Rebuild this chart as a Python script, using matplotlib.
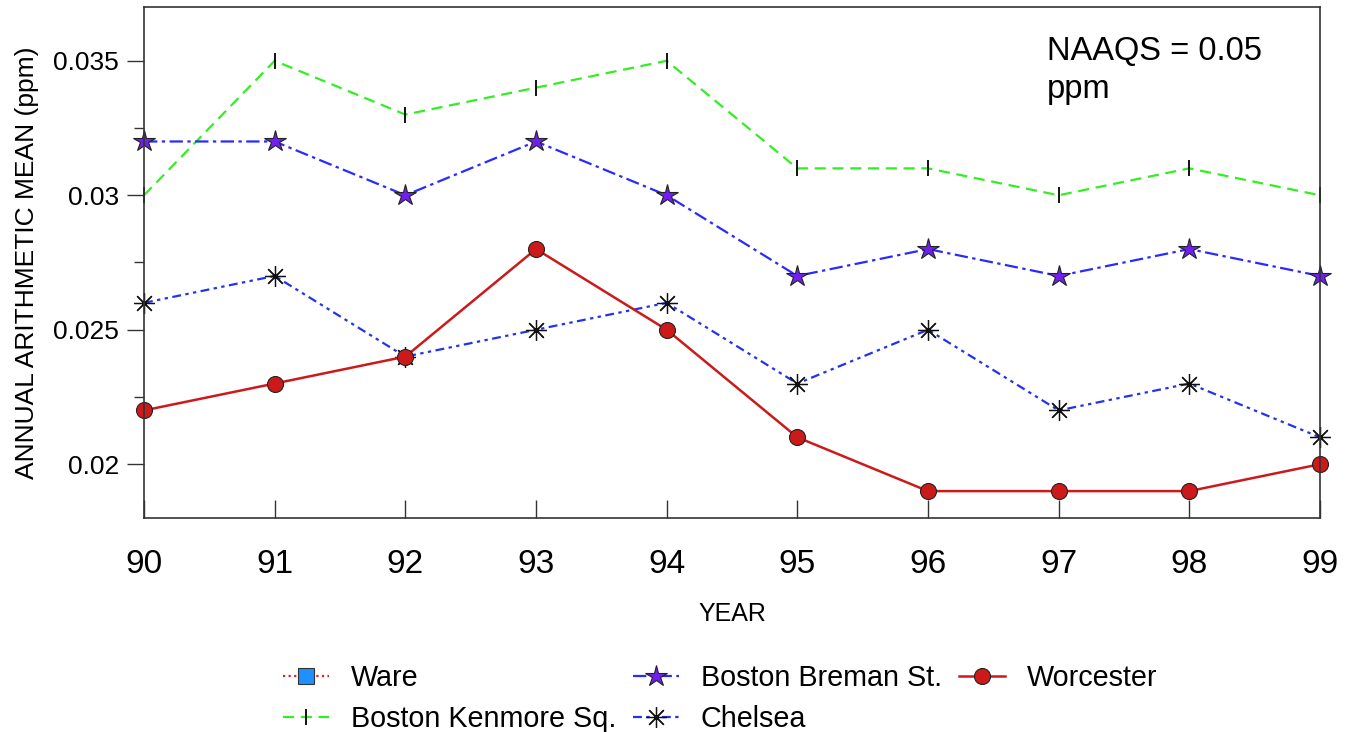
import matplotlib
matplotlib.use("Agg")
import matplotlib.pyplot as plt
import numpy as np

plt.rcParams['font.family'] = ['Liberation Sans', 'DejaVu Sans']

years = [90, 91, 92, 93, 94, 95, 96, 97, 98, 99]
year_labels = ["90", "91", "92", "93", "94", "95", "96", "97", "98", "99"]
ware = []  # no data points visible, legend only
kenmore = [0.030, 0.035, 0.033, 0.034, 0.035, 0.031, 0.031, 0.030, 0.031, 0.030]
breman = [0.032, 0.032, 0.030, 0.032, 0.030, 0.027, 0.028, 0.027, 0.028, 0.027]
chelsea = [0.026, 0.027, 0.024, 0.025, 0.026, 0.023, 0.025, 0.022, 0.023, 0.021]
worcester = [0.022, 0.023, 0.024, 0.028, 0.025, 0.021, 0.019, 0.019, 0.019, 0.020]

fig = plt.figure(figsize=(13.51, 7.32), dpi=100)
ax = fig.add_axes([144/1351, 1-518/732, (1320-144)/1351, (518-7)/732])

h_ware, = ax.plot(years[:len(ware)], ware, color='#dd2222', linestyle=(0, (1, 1.5)), lw=1.6,
                  marker='s', markersize=11, markerfacecolor='#1e90ff', markeredgecolor='#333333',
                  markeredgewidth=0.8, label='Ware')
h_ken, = ax.plot(years, kenmore, color='#33ee22', linestyle=(0, (5, 3)), lw=1.6,
                 marker='|', markersize=12, markeredgecolor='black', markeredgewidth=1.3,
                 label='Boston Kenmore Sq.', clip_on=False)
h_bre, = ax.plot(years, breman, color='#2a2aff', linestyle=(0, (6, 2, 1.5, 2)), lw=1.6,
                 marker='*', markersize=16, markerfacecolor='#7020ee', markeredgecolor='#222222',
                 markeredgewidth=0.8, label='Boston Breman St.', clip_on=False)
h_che, = ax.plot(years, chelsea, color='#2233ee', linestyle=(0, (4, 2, 1.5, 2, 1.5, 2)), lw=1.6,
                 marker=(8, 2, 0), markersize=15, markeredgecolor='#111111', markeredgewidth=0.9,
                 label='Chelsea', clip_on=False)
h_wor, = ax.plot(years, worcester, color='#cc1a1a', linestyle='-', lw=1.8,
                 marker='o', markersize=11.5, markerfacecolor='#cc1a1a', markeredgecolor='#222222',
                 markeredgewidth=0.8, label='Worcester', clip_on=False)

ax.set_xlim(90, 99)
ax.set_ylim(0.018, 0.037)
ax.set_xticks(years)
ax.set_xticklabels(year_labels)
ax.set_yticks([0.02, 0.025, 0.03, 0.035])
ax.set_yticklabels(["0.02", "0.025", "0.03", "0.035"])
ax.set_yticks([0.0225, 0.0275, 0.0325], minor=True)

ax.tick_params(axis='x', direction='in', length=13, width=1.0, pad=22, labelsize=24, colors='#333333', labelcolor='black')
ax.tick_params(axis='y', which='major', direction='out', length=12, width=1.0, pad=6, labelsize=19, colors='#333333', labelcolor='black')
ax.tick_params(axis='y', which='minor', direction='out', length=7, width=1.0, colors='#333333')

for s in ax.spines.values():
    s.set_color('#333333')
    s.set_linewidth(1.2)

ax.set_xlabel('YEAR', fontsize=18, labelpad=16)
ax.set_ylabel('ANNUAL ARITHMETIC MEAN (ppm)', fontsize=19, labelpad=10)

ax.text((1047-144)/1176, 0.944, 'NAAQS = 0.05\nppm', transform=ax.transAxes,
        fontsize=23.5, va='top', ha='left', linespacing=1.3)

fig.legend(handles=[h_ware, h_ken, h_bre, h_che, h_wor], ncol=3, loc='center',
           bbox_to_anchor=(0.533, 0.046), frameon=False, fontsize=20.7,
           handlelength=1.6, handletextpad=0.75, columnspacing=0.6, labelspacing=0.45,
           borderpad=0.2)

fig.savefig('out.png', dpi=100)
